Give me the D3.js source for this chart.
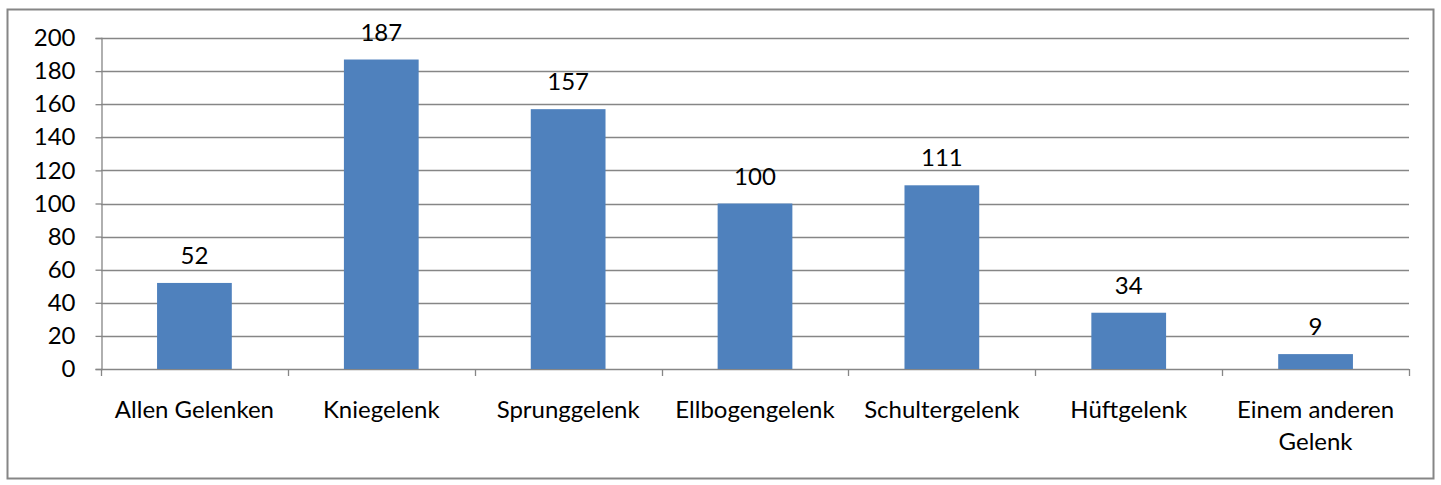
<!DOCTYPE html>
<meta charset="utf-8">
<html>
<head>
<style>
  body { margin: 0; background: #fff; }
  text { font-family: Lato, "Open Sans", sans-serif; fill: #000; }
</style>
<script src="https://cdn.jsdelivr.net/npm/d3@7"></script>
</head>
<body>
<script>
var categories = ["Allen Gelenken", "Kniegelenk", "Sprunggelenk", "Ellbogengelenk", "Schultergelenk", "Hüftgelenk", "Einem anderen Gelenk"]
var counts = [52, 187, 157, 100, 111, 34, 9]
var yTicks = [0, 20, 40, 60, 80, 100, 120, 140, 160, 180, 200]

var W = 1441, H = 485
var svg = d3.select("body").append("svg").attr("width", W).attr("height", H)

// outer frame
svg.append("rect")
    .attr("x", 7.5).attr("y", 9.5)
    .attr("width", 1426).attr("height", 469)
    .attr("fill", "#fff").attr("stroke", "#868686").attr("stroke-width", 2)

var plotLeft = 101, plotRight = 1409, plotTop = 38, plotBottom = 369
var fs = "24px"

var x = d3.scaleBand().domain(categories).range([plotLeft, plotRight]).paddingInner(0.6).paddingOuter(0.3)
var y = d3.scaleLinear().domain([0, 200]).range([plotBottom, plotTop])

// gridlines
svg.selectAll("line.grid")
    .data(yTicks.filter(d => d > 0))
    .enter().append("line")
    .attr("class", "grid")
    .attr("x1", plotLeft).attr("x2", plotRight)
    .attr("y1", d => Math.round(y(d)) + 0.5).attr("y2", d => Math.round(y(d)) + 0.5)
    .attr("stroke", "#868686").attr("stroke-width", 1.3)

// y axis
var yAxis = svg.append("g").attr("transform", "translate(" + (plotLeft + 0.5) + ",0)")
    .call(d3.axisLeft(y).tickValues(yTicks).tickSize(6).tickPadding(20))
yAxis.select(".domain").attr("stroke", "#868686").attr("stroke-width", 1.3)
yAxis.selectAll(".tick line").attr("stroke", "#868686").attr("stroke-width", 1.3)
yAxis.selectAll(".tick text").style("font-size", fs).style("font-family", "Lato, 'Open Sans', sans-serif").attr("fill", "#000")

// x axis with ticks at category boundaries
var bounds = d3.range(categories.length + 1).map(i => plotLeft + i * (plotRight - plotLeft) / categories.length)
svg.append("line")
    .attr("x1", plotLeft).attr("x2", plotRight)
    .attr("y1", plotBottom + 0.5).attr("y2", plotBottom + 0.5)
    .attr("stroke", "#868686").attr("stroke-width", 1.3)
svg.selectAll("line.xtick")
    .data(bounds)
    .enter().append("line")
    .attr("class", "xtick")
    .attr("x1", d => Math.round(d) + 0.5).attr("x2", d => Math.round(d) + 0.5)
    .attr("y1", plotBottom).attr("y2", plotBottom + 7)
    .attr("stroke", "#868686").attr("stroke-width", 1.3)

// bars
svg.selectAll("rect.bar")
    .data(counts)
    .enter().append("rect")
    .attr("class", "bar")
    .attr("x", (d, i) => x(categories[i]))
    .attr("width", x.bandwidth())
    .attr("y", d => y(d))
    .attr("height", d => y(0) - y(d))
    .attr("fill", "#4F81BD")

// value labels
svg.selectAll("text.val")
    .data(counts)
    .enter().append("text")
    .attr("class", "val")
    .attr("x", (d, i) => x(categories[i]) + x.bandwidth() / 2)
    .attr("y", d => y(d) - 19)
    .attr("text-anchor", "middle")
    .style("font-size", fs)
    .text(d => d)

// category labels
var labelLines = {"Einem anderen Gelenk": ["Einem anderen", "Gelenk"]}
svg.selectAll("text.cat")
    .data(categories)
    .enter().append("text")
    .attr("class", "cat")
    .attr("x", d => x(d) + x.bandwidth() / 2)
    .attr("y", 418)
    .attr("text-anchor", "middle")
    .style("font-size", fs)
    .each(function(d) {
        var lines = labelLines[d] || [d]
        var t = d3.select(this)
        lines.forEach((l, i) => {
            t.append("tspan").attr("x", x(d) + x.bandwidth() / 2).attr("dy", i == 0 ? 0 : 32).text(l)
        })
    })
</script>
</body>
</html>
